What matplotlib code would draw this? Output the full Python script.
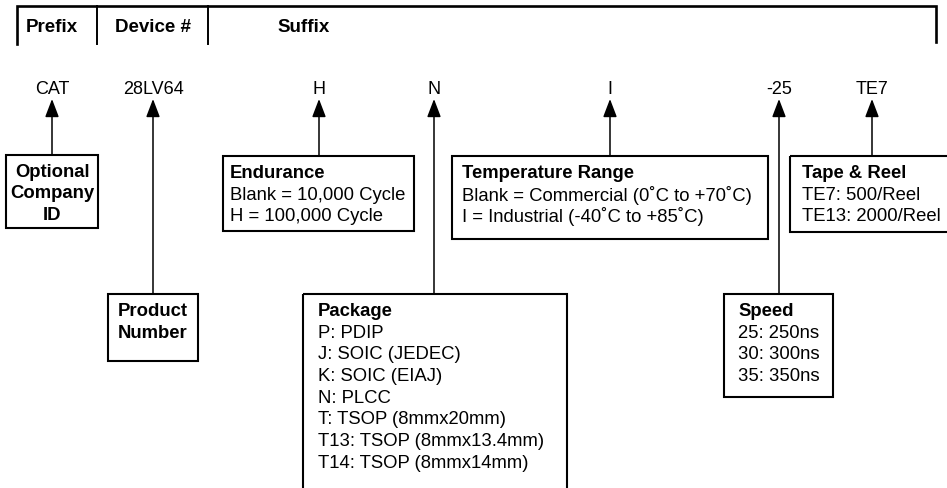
import matplotlib.pyplot as plt
from matplotlib.patches import Rectangle, FancyArrowPatch

plt.rcParams['font.family'] = ['Liberation Sans', 'DejaVu Sans']

# заголовки скобки
headers = ["Prefix", "Device #", "Suffix"]
header_x = [52, 153, 277]
header_ha = ["center", "center", "left"]

# символы в обозначении
codes = ["CAT", "28LV64", "H", "N", "I", "-25", "TE7"]
code_x = [52, 153, 319, 434, 610, 779, 872]

# блоки с пояснениями (заголовок + строки)
titles = ["Optional\nCompany\nID", "Product\nNumber", "Endurance", "Package",
          "Temperature Range", "Speed", "Tape & Reel"]
options = [
    [],
    [],
    ["Blank = 10,000 Cycle", "H = 100,000 Cycle"],
    ["P: PDIP", "J: SOIC (JEDEC)", "K: SOIC (EIAJ)", "N: PLCC",
     "T: TSOP (8mmx20mm)", "T13: TSOP (8mmx13.4mm)", "T14: TSOP (8mmx14mm)"],
    ["Blank = Commercial (0\u02daC to +70\u02daC)", "I = Industrial (-40\u02daC to +85\u02daC)"],
    ["25: 250ns", "30: 300ns", "35: 350ns"],
    ["TE7: 500/Reel", "TE13: 2000/Reel"],
]

# раскладка блоков: x0, y0, x1, y1 (в пикселях)
boxes = [(6, 156, 98, 229), (108, 295, 198, 362), (223, 157, 414, 232),
         (303, 295, 567, 520), (452, 157, 768, 240), (724, 295, 833, 398),
         (790, 157, 980, 233)]
text_x = [None, None, 230, 318, 462, 738, 802]

fig = plt.figure(figsize=(9.47, 4.89), dpi=100)
ax = fig.add_axes([0, 0, 1, 1])
ax.set_xlim(0, 947)
ax.set_ylim(489, 0)
ax.axis('off')

# верхняя скобка
ax.plot([17, 17, 936, 936], [45, 7, 7, 43], color='k', lw=1.9, solid_joinstyle='miter')
for xd in [97, 208]:
    ax.plot([xd, xd], [7, 45], color='k', lw=1.4)
for h, x, ha in zip(headers, header_x, header_ha):
    ax.text(x, 27, h, ha=ha, va='center', fontsize=13.5, fontweight='bold')

FS = 13.3
LS = 21.7
for i, (code, x) in enumerate(zip(codes, code_x)):
    ax.text(x, 90, code, ha='center', va='center', fontsize=13)
    x0, y0, x1, y1 = boxes[i]
    arr = FancyArrowPatch((x, y0), (x, 100), arrowstyle='-|>,head_length=1.1,head_width=0.42',
                          mutation_scale=10, color='k', lw=1.1, shrinkA=0, shrinkB=0)
    ax.add_patch(arr)
    ax.add_patch(Rectangle((x0, y0), x1 - x0, y1 - y0, fill=False, ec='k', lw=1.5))
    if text_x[i] is None:
        # центрированный жирный текст
        for k, line in enumerate(titles[i].split("\n")):
            ax.text((x0 + x1) / 2, y0 + 16.5 + k * 21.5, line, ha='center', va='center',
                    fontsize=FS, fontweight='bold')
    else:
        ax.text(text_x[i], y0 + 16.5, titles[i], ha='left', va='center',
                fontsize=FS, fontweight='bold')
        for k, line in enumerate(options[i]):
            ax.text(text_x[i], y0 + 16.5 + (k + 1) * LS, line, ha='left', va='center', fontsize=FS)

fig.savefig('out.png', dpi=100)
